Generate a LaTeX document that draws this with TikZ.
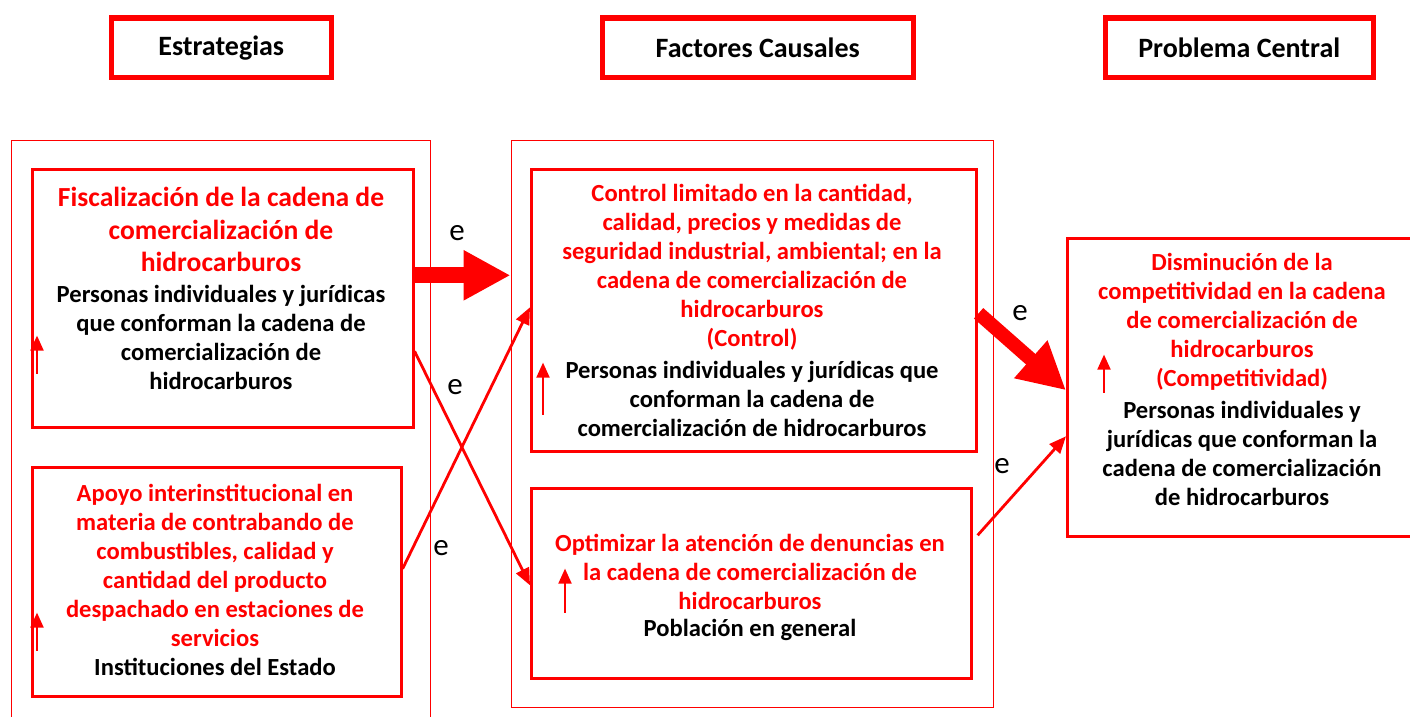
\documentclass[tikz,border=0pt]{standalone}
\usepackage{fontspec}
\setmainfont{Carlito}
\usetikzlibrary{arrows.meta,calc}
\tikzset{
  hdr/.style={draw=red,line width=5.5pt,anchor=north west,inner sep=0pt},
  outerbox/.style={draw=red,line width=1.8pt,anchor=north west,inner sep=0pt},
  innerbox/.style={draw=red,line width=2.6pt,anchor=north west,inner sep=0pt},
  hdrtxt/.style={font=\bfseries\fontsize{28}{32}\selectfont},
  redtxt/.style={text=red,align=center,font=\bfseries\fontsize{24.6}{29}\selectfont},
  redbig/.style={text=red,align=center,font=\bfseries\fontsize{27.6}{32.5}\selectfont},
  blktxt/.style={text=black,align=center,font=\bfseries\fontsize{24.6}{29}\selectfont},
  elabel/.style={font=\fontsize{31}{34}\selectfont},
  thin/.style={draw=red,line width=2.8pt,-{Triangle[length=17pt,width=14pt]}},
  thick/.style={draw=red,line width=16pt,-{Triangle[length=47pt,width=47pt]}},
  thickb/.style={draw=red,line width=14pt,-{Triangle[length=47pt,width=47pt]}},
  uparrow/.style={draw=red,line width=2pt,-{Triangle[length=15pt,width=13pt]}},
}
\begin{document}
\begin{tikzpicture}[x=1pt,y=-1pt]
\useasboundingbox (0,0) rectangle (1410,717);
% headers
\node[hdr,minimum width=220,minimum height=59] (h1) at (108.5,15.5) {};
\node[hdrtxt] at (h1.center) {Estrategias};
\node[hdr,minimum width=311,minimum height=59] (h2) at (599.5,15.5) {};
\node[hdrtxt] at (h2.center) {Factores Causales};
\node[hdr,minimum width=268,minimum height=59] (h3) at (1102.5,15.5) {};
\node[hdrtxt] at (h3.center) {Problema Central};
% outer boxes
\node[outerbox,minimum width=419,minimum height=600] (o1) at (10.5,139.5) {};
\node[outerbox,minimum width=482,minimum height=567] (o2) at (510.5,139.5) {};
% inner boxes
\node[innerbox,minimum width=381,minimum height=258] (fisc) at (31,168) {};
\node[innerbox,minimum width=369,minimum height=229] (apoyo) at (31,466) {};
\node[innerbox,minimum width=445,minimum height=282] (ctrl) at (530,168) {};
\node[innerbox,minimum width=440,minimum height=190] (opt) at (530,487) {};
\node[innerbox,minimum width=360,minimum height=298] (prob) at (1066,237) {};
% texts
\node[redbig] at (221,229.5) {Fiscalización de la cadena de\\comercialización de\\hidrocarburos};
\node[blktxt] at (221,337.5) {Personas individuales y jurídicas\\que conforman la cadena de\\comercialización de\\hidrocarburos};
\node[redtxt] at (215,565.5) {Apoyo interinstitucional en\\materia de contrabando de\\combustibles, calidad y\\cantidad del producto\\despachado en estaciones de\\servicios};
\node[blktxt] at (215,667) {Instituciones del Estado};
\node[redtxt] at (752,267) {Control limitado en la cantidad,\\calidad, precios y medidas de\\seguridad industrial, ambiental; en la\\cadena de comercialización de\\hidrocarburos\\(Control)};
\node[blktxt] at (752,399) {Personas individuales y jurídicas que\\conforman la cadena de\\comercialización de hidrocarburos};
\node[redtxt] at (750,572) {Optimizar la atención de denuncias en\\la cadena de comercialización de\\hidrocarburos};
\node[blktxt] at (750,630) {Población en general};
\node[redtxt] at (1242,322) {Disminución de la\\competitividad en la cadena\\de comercialización de\\hidrocarburos\\(Competitividad)};
\node[blktxt] at (1242,453.5) {Personas individuales y\\jurídicas que conforman la\\cadena de comercialización\\de hidrocarburos};
% small up arrows
\draw[uparrow] ([shift={(6,-55)}]fisc.south west) -- ++(0,-38);
\draw[uparrow] ([shift={(6,-47)}]apoyo.south west) -- ++(0,-38);
\draw[uparrow] ([shift={(13,-38)}]ctrl.south west) -- ++(0,-52);
\draw[uparrow] ([shift={(35,-67)}]opt.south west) -- ++(0,-44);
\draw[uparrow] ([shift={(38,-145)}]prob.south west) -- ++(0,-38);
% connectors
\coordinate (a1s) at ([shift={(0,-23)}]fisc.east);
\coordinate (a1e) at (o2.west |- a1s);
\draw[thick] (a1s) -- (a1e);
\node[elabel] at (457,233) {e};
\draw[thin] ([shift={(0,53)}]fisc.east) -- ([shift={(0,2)}]opt.west);
\node[elabel] at (455,387) {e};
\draw[thin] ([shift={(0,-13)}]apoyo.east) -- ([shift={(0,-3)}]ctrl.west);
\node[elabel] at (441,548) {e};
\draw[thickb] ([shift={(1,3)}]ctrl.east) -- ([shift={(0,3)}]prob.west);
\node[elabel] at (1020,313) {e};
\draw[thin] ([shift={(5,-48)}]opt.east) -- ([shift={(0,49)}]prob.west);
\node[elabel] at (1002,466) {e};
\end{tikzpicture}
\end{document}
